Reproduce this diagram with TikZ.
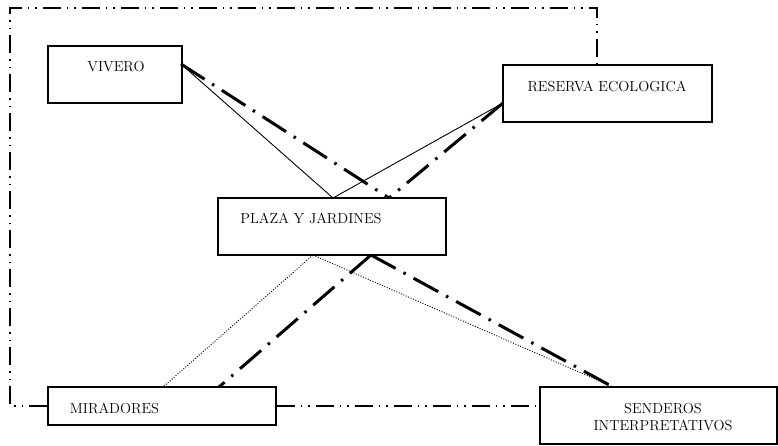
\documentclass[tikz,border=0pt]{standalone}
\usetikzlibrary{calc}
\begin{document}
\begin{tikzpicture}[x=1pt,y=-1pt,
  box/.style={draw,line width=1.4pt,rectangle,inner sep=0pt},
  lbl/.style={font=\fontsize{14.5}{17}\selectfont,inner sep=0pt,align=center},
  frameline/.style={line width=1.2pt,dash pattern=on 18pt off 6pt on 1.5pt off 6pt on 1.5pt off 6pt},
  thickdd/.style={line width=3pt,dash pattern=on 28pt off 9pt on 2.5pt off 9pt},
  thinline/.style={line width=0.9pt},
  dotline/.style={line width=0.9pt,dash pattern=on 1pt off 1.6pt}]
\useasboundingbox (0,0) rectangle (778,445);
% boxes
\node[box,minimum width=134pt,minimum height=57pt] (viv) at (115,74.5) {};
\node[box,minimum width=209pt,minimum height=57pt] (res) at (607.5,93.5) {};
\node[box,minimum width=228pt,minimum height=57pt] (pla) at (332,226.5) {};
\node[box,minimum width=228pt,minimum height=38pt] (mir) at (162,406) {};
\node[box,minimum width=237pt,minimum height=57pt] (sen) at (658.5,415.5) {};
% labels
\node[lbl] (tviv) at (116,67) {VIVERO};
\node[lbl] (tres) at (607,86) {RESERVA ECOLOGICA};
\node[lbl] (tpla) at (311,218) {PLAZA Y JARDINES};
\node[lbl] (tmir) at (114.5,408) {MIRADORES};
\node[lbl] (tsen) at (663,417.5) {SENDEROS\\INTERPRETATIVOS};
% connection points
\coordinate (vR) at (181,64);
\coordinate (rL) at (503,103);
\coordinate (pT1) at (333,198);
\coordinate (pT2) at (389,198);
\coordinate (pB1) at (313,255);
\coordinate (pB2) at (371,255);
\coordinate (mT1) at (163,387);
\coordinate (mT2) at (219,387);
\coordinate (sT) at (613,387);
% frame
\coordinate (fBL) at (10,406);
\coordinate (fTL) at (10,8);
\coordinate (fTR) at (597,8);
\draw[frameline] (mir.west) -- (fBL) -- (fTL) -- (fTR) -- (res.north -| fTR);
\draw[frameline] (mir.east) -- (sen.west |- mir.east);
% thin lines
\draw[thinline] (vR) -- (pT1) -- (rL);
% thick dash-dot
\draw[thickdd] (vR) -- (pT2);
\draw[thickdd] (rL) -- (pT2);
\draw[thickdd] (pB2) -- (mT2);
\draw[thickdd] (pB2) -- (sT);
% dotted
\draw[dotline] (pB1) -- (mT1);
\draw[dotline] (pB1) -- (sT);
\end{tikzpicture}
\end{document}
